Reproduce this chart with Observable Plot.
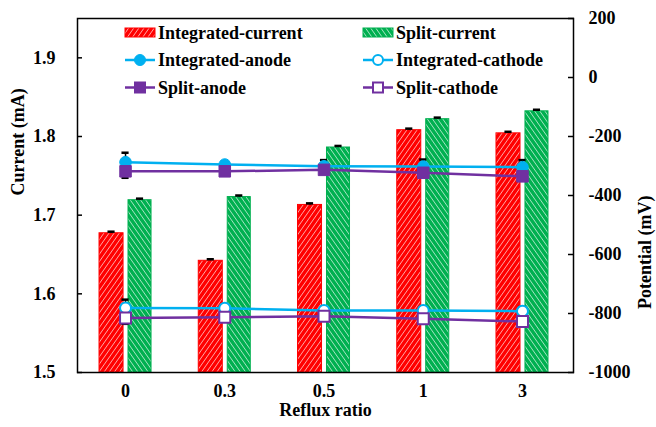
<!DOCTYPE html>
<html>
<head>
<meta charset="utf-8">
<script src="https://cdn.jsdelivr.net/npm/d3@7"></script>
<script src="https://cdn.jsdelivr.net/npm/@observablehq/plot@0.6"></script>
<style>
  html, body { margin: 0; padding: 0; background: white; }
</style>
</head>
<body>
<div id="chart"></div>
<script>
// ---- Data ----
const categories = ["0", "0.3", "0.5", "1", "3"];
const integratedCurrent = [1.677, 1.642, 1.713, 1.808, 1.804];
const splitCurrent = [1.719, 1.723, 1.786, 1.822, 1.832];
const integratedCurrentErr = [0.002, 0.002, 0.002, 0.002, 0.002];
const splitCurrentErr = [0.002, 0.002, 0.002, 0.002, 0.002];
const integratedAnode = [-287, -295, -301, -302, -304];
const splitAnode = [-318, -318, -313, -323, -335];
const integratedCathode = [-781, -782, -790, -790, -792];
const splitCathode = [-815, -813, -809, -818, -827];
const integratedAnodeErr = [32, 10, 21, 24, 24];
const splitAnodeErr = [22, 10, 10, 10, 10];
const integratedCathodeErr = [28, 10, 10, 10, 14];
const splitCathodeErr = [20, 10, 10, 10, 10];
const leftTicks = [1.5, 1.6, 1.7, 1.8, 1.9];
const rightTicks = [-1000, -800, -600, -400, -200, 0, 200];

// ---- Helpers ----
const RED = "#FF0000", GREEN = "#00B050", CYAN = "#00B0F0", PURPLE = "#7030A0";
const toY = v => 1.5 + (v + 1000) * 0.45 / 1200;          // potential -> current axis
const fromY = y => Math.round((y - 1.5) * 1200 / 0.45 - 1000);

const rows = categories.map((c, i) => ({
  i, c,
  ic: integratedCurrent[i], sc: splitCurrent[i],
  icE: integratedCurrentErr[i], scE: splitCurrentErr[i],
  ia: integratedAnode[i], sa: splitAnode[i],
  ik: integratedCathode[i], sk: splitCathode[i],
  iaE: integratedAnodeErr[i], saE: splitAnodeErr[i],
  ikE: integratedCathodeErr[i], skE: splitCathodeErr[i]
}));

const rL1 = -0.262, rL2 = -0.02, gL1 = 0.03, gL2 = 0.262;
const capW = 0.036;

function errMarks(key, errKey, conv) {
  return [
    Plot.ruleX(rows, {x: "i", y1: d => conv(d[key] - d[errKey]), y2: d => conv(d[key] + d[errKey]), stroke: "black", strokeWidth: 1.5}),
    Plot.ruleY(rows, {y: d => conv(d[key] + d[errKey]), x1: d => d.i - capW, x2: d => d.i + capW, stroke: "black", strokeWidth: 2.5}),
    Plot.ruleY(rows, {y: d => conv(d[key] - d[errKey]), x1: d => d.i - capW, x2: d => d.i + capW, stroke: "black", strokeWidth: 2.5})
  ];
}

const chart = Plot.plot({
  width: 656,
  height: 427,
  marginLeft: 77,
  marginRight: 83,
  marginTop: 18,
  marginBottom: 55,
  style: {fontFamily: "'Liberation Serif', 'Times New Roman', serif", fontSize: "18px", fontWeight: "bold", color: "black", background: "white"},
  x: {type: "linear", domain: [-0.484, 4.514]},
  y: {domain: [1.5, 1.95]},
  marks: [
    // bars
    Plot.rectY(rows, {x1: d => d.i + rL1, x2: d => d.i + rL2, y1: d => 1.5, y2: "ic", fill: "url(#hatchRed)", stroke: RED, strokeWidth: 1}),
    Plot.rectY(rows, {x1: d => d.i + gL1, x2: d => d.i + gL2, y1: d => 1.5, y2: "sc", fill: "url(#hatchGreen)", stroke: GREEN, strokeWidth: 1}),
    // bar error caps
    Plot.ruleX(rows, {x: d => d.i + (rL1 + rL2) / 2, y1: "ic", y2: d => d.ic + d.icE, stroke: "black", strokeWidth: 1.5}),
    Plot.ruleY(rows, {y: d => d.ic + d.icE, x1: d => d.i + (rL1 + rL2) / 2 - capW, x2: d => d.i + (rL1 + rL2) / 2 + capW, stroke: "black", strokeWidth: 2.5}),
    Plot.ruleX(rows, {x: d => d.i + (gL1 + gL2) / 2, y1: "sc", y2: d => d.sc + d.scE, stroke: "black", strokeWidth: 1.5}),
    Plot.ruleY(rows, {y: d => d.sc + d.scE, x1: d => d.i + (gL1 + gL2) / 2 - capW, x2: d => d.i + (gL1 + gL2) / 2 + capW, stroke: "black", strokeWidth: 2.5}),
    // line error bars
    ...errMarks("ia", "iaE", toY),
    ...errMarks("sa", "saE", toY),
    ...errMarks("ik", "ikE", toY),
    ...errMarks("sk", "skE", toY),
    // lines
    Plot.line(rows, {x: "i", y: d => toY(d.ia), stroke: CYAN, strokeWidth: 2.5}),
    Plot.line(rows, {x: "i", y: d => toY(d.sa), stroke: PURPLE, strokeWidth: 2.5}),
    Plot.line(rows, {x: "i", y: d => toY(d.ik), stroke: CYAN, strokeWidth: 2.5}),
    Plot.line(rows, {x: "i", y: d => toY(d.sk), stroke: PURPLE, strokeWidth: 2.5}),
    // markers
    Plot.dot(rows, {x: "i", y: d => toY(d.ia), r: 5.8, fill: CYAN, stroke: CYAN, strokeWidth: 1}),
    Plot.dot(rows, {x: "i", y: d => toY(d.sa), r: 6.5, symbol: "square", fill: PURPLE, stroke: PURPLE, strokeWidth: 1}),
    Plot.dot(rows, {x: "i", y: d => toY(d.ik), r: 5.5, fill: "white", stroke: CYAN, strokeWidth: 2}),
    Plot.dot(rows, {x: "i", y: d => toY(d.sk), r: 6.2, symbol: "square", fill: "white", stroke: PURPLE, strokeWidth: 2}),
    // frame & axes
    Plot.frame({stroke: "black", strokeWidth: 1.5}),
    Plot.axisY(leftTicks, {anchor: "left", tickSize: -5, tickPadding: 27, tickFormat: d => d.toFixed(1), label: null, strokeWidth: 1.5}),
    Plot.axisY(rightTicks.map(toY), {anchor: "right", tickSize: -6, tickPadding: 21, tickFormat: d => String(fromY(d)), label: null, strokeWidth: 1.5}),
    Plot.axisX(categories.map((c, i) => i), {anchor: "bottom", tickSize: 0, tickPadding: 12, tickFormat: d => categories[d], label: null}),
    // axis titles
    Plot.text(["Current (mA)"], {frameAnchor: "left", dx: -59, rotate: -90, fontSize: 18, fontWeight: "bold"}),
    Plot.text(["Potential (mV)"], {frameAnchor: "right", dx: 72, rotate: -90, fontSize: 18, fontWeight: "bold"}),
    Plot.text(["Reflux ratio"], {frameAnchor: "bottom", lineAnchor: "middle", dy: 38, fontSize: 18, fontWeight: "bold"})
  ]
});

document.getElementById("chart").appendChild(chart);

// ---- Patterns ----
const svg = d3.select(chart.tagName.toLowerCase() === "svg" ? chart : chart.querySelector("svg"));
const defs = svg.insert("defs", ":first-child");
function hatch(idName, color, angle) {
  const p = defs.append("pattern").attr("id", idName).attr("patternUnits", "userSpaceOnUse")
    .attr("width", 4.2).attr("height", 4.2).attr("patternTransform", `rotate(${angle})`);
  p.append("rect").attr("width", 4.2).attr("height", 4.2).attr("fill", color);
  p.append("line").attr("x1", 0).attr("y1", 0).attr("x2", 0).attr("y2", 4.2).attr("stroke", "white").attr("stroke-width", 1.2).attr("stroke-opacity", 0.9);
}
hatch("hatchRed", RED, 35);
hatch("hatchGreen", GREEN, -35);

// ---- Legend ----
const lg = svg.append("g").attr("font-family", "'Liberation Serif', 'Times New Roman', serif")
  .attr("font-size", 18).attr("font-weight", "bold").attr("text-anchor", "start");
const legendItems = [
  {label: "Integrated-current", type: "bar", fill: "url(#hatchRed)", color: RED, col: 0, row: 0},
  {label: "Split-current", type: "bar", fill: "url(#hatchGreen)", color: GREEN, col: 1, row: 0},
  {label: "Integrated-anode", type: "circle", fill: CYAN, color: CYAN, col: 0, row: 1},
  {label: "Integrated-cathode", type: "circle", fill: "white", color: CYAN, col: 1, row: 1},
  {label: "Split-anode", type: "square", fill: PURPLE, color: PURPLE, col: 0, row: 2},
  {label: "Split-cathode", type: "square", fill: "white", color: PURPLE, col: 1, row: 2}
];
const colX = [125, 363], rowY = [32.5, 60, 87.5];
legendItems.forEach(it => {
  const x0 = colX[it.col], y0 = rowY[it.row];
  const g = lg.append("g").attr("transform", `translate(${x0},${y0})`);
  if (it.type === "bar") {
    g.append("rect").attr("x", 0).attr("y", -4.5).attr("width", 30).attr("height", 9)
      .attr("fill", it.fill).attr("stroke", it.color).attr("stroke-width", 1);
  } else {
    g.append("line").attr("x1", 0).attr("x2", 30).attr("y1", 0).attr("y2", 0)
      .attr("stroke", it.color).attr("stroke-width", 2.5);
    if (it.type === "circle") {
      g.append("circle").attr("cx", 15).attr("cy", 0).attr("r", it.fill === "white" ? 5 : 5.5)
        .attr("fill", it.fill).attr("stroke", it.color).attr("stroke-width", it.fill === "white" ? 2 : 1);
    } else {
      const s = it.fill === "white" ? 10 : 11;
      g.append("rect").attr("x", 15 - s / 2).attr("y", -s / 2).attr("width", s).attr("height", s)
        .attr("fill", it.fill).attr("stroke", it.color).attr("stroke-width", it.fill === "white" ? 2 : 1);
    }
  }
  g.append("text").attr("x", 33).attr("y", 0).attr("dy", "0.35em").attr("fill", "black").attr("text-anchor", "start").text(it.label);
});
</script>
</body>
</html>
